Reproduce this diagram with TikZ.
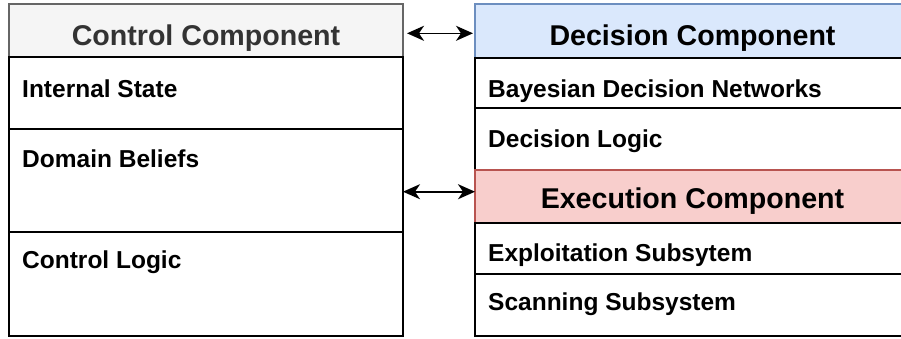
\documentclass[tikz,border=0pt]{standalone}
\usepackage{fontspec}
\setmainfont{Liberation Sans}
\usetikzlibrary{arrows.meta}

\definecolor{grayfill}{HTML}{F5F5F5}
\definecolor{grayline}{HTML}{666666}
\definecolor{graytext}{HTML}{333333}
\definecolor{bluefill}{HTML}{DAE8FC}
\definecolor{blueline}{HTML}{6C8EBF}
\definecolor{redfill}{HTML}{F8CECC}
\definecolor{redline}{HTML}{B85450}

\tikzset{
  box/.style={rectangle, inner sep=0pt, outer sep=0pt, line width=2pt, anchor=north west},
  rowbox/.style={box, draw=black, fill=white},
  hdrtext/.style={inner sep=0pt, anchor=base, font=\bfseries\fontsize{28.6}{34}\selectfont},
  itemtext/.style={inner sep=0pt, anchor=base west, font=\bfseries\fontsize{24.5}{29}\selectfont},
  biarrow/.style={line width=1.6pt, arrows={Stealth[length=17pt,width=15pt,inset=5pt]-Stealth[length=17pt,width=15pt,inset=5pt]}}
}

\begin{document}
\begin{tikzpicture}[x=1pt, y=-1pt]
  \clip (0,0) rectangle (901,338);
  \fill[white] (0,0) rectangle (901,338);

  % Control component (left column)
  \node[box, draw=grayline, fill=grayfill, minimum width=394pt, minimum height=53pt] (ctlh) at (9,4) {};
  \node[rowbox, minimum width=394pt, minimum height=72pt] (ist) at (9,57) {};
  \node[rowbox, minimum width=394pt, minimum height=103pt] (dom) at (9,129) {};
  \node[rowbox, minimum width=394pt, minimum height=104pt] (clg) at (9,232) {};
  \node[hdrtext, text=graytext] (ctlt) at (206,45) {Control Component};
  \node[itemtext] (istt) at (22,97) {Internal State};
  \node[itemtext] (domt) at (22,167) {Domain Beliefs};
  \node[itemtext] (clgt) at (22,268) {Control Logic};

  % Decision component (right column, upper part)
  \node[box, draw=blueline, fill=bluefill, minimum width=437pt, minimum height=54pt] (dech) at (475,4) {};
  \node[rowbox, minimum width=437pt, minimum height=50pt] (bdn) at (475,58) {};
  \node[rowbox, minimum width=437pt, minimum height=62pt] (dlg) at (475,108) {};
  \node[hdrtext] (dect) at (692.5,45) {Decision Component};
  \node[itemtext] (bdnt) at (488,97) {Bayesian Decision Networks};
  \node[itemtext] (dlgt) at (488,147) {Decision Logic};

  % Execution component (right column, lower part)
  \node[box, draw=redline, fill=redfill, minimum width=437pt, minimum height=53pt] (exeh) at (475,170) {};
  \node[rowbox, minimum width=437pt, minimum height=51pt] (exp) at (475,223) {};
  \node[rowbox, minimum width=437pt, minimum height=62pt] (scn) at (475,274) {};
  \node[hdrtext] (exet) at (692.5,208.3) {Execution Component};
  \node[itemtext] (expt) at (488,261) {Exploitation Subsytem};
  \node[itemtext] (scnt) at (488,310) {Scanning Subsystem};

  % Links between the components
  \draw[biarrow] ([xshift=4pt,yshift=-2.8pt]ctlh.east) -- ([xshift=-2pt,yshift=-2.3pt]dech.west);
  \draw[biarrow] ([yshift=4.8pt]exeh.west -| dom.east) -- ([yshift=4.8pt]exeh.west);
\end{tikzpicture}
\end{document}
